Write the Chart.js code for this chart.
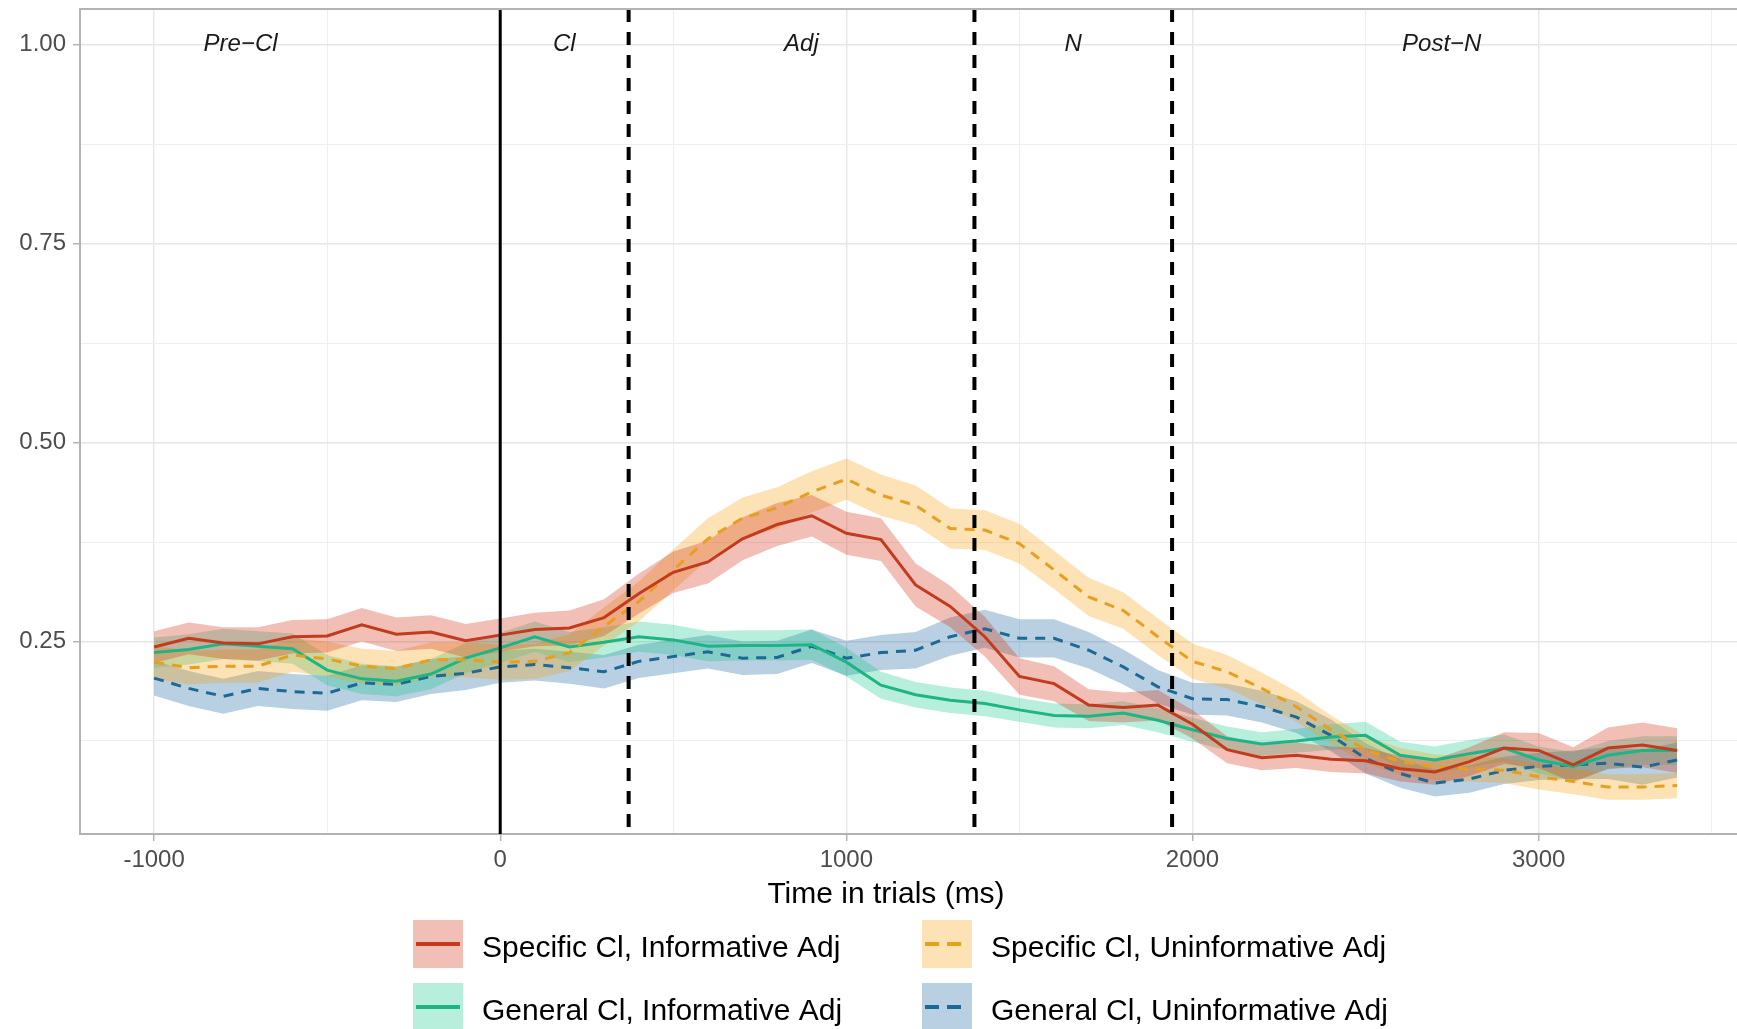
<!DOCTYPE html>
<html>
<head>
<meta charset="utf-8">
<script src="https://cdn.jsdelivr.net/npm/chart.js@4.4.1/dist/chart.umd.min.js"></script>
<style>
  html, body { margin: 0; padding: 0; background: #ffffff; }
  #wrap { position: relative; width: 1737px; height: 1029px; }
  canvas { display: block; }
</style>
</head>
<body>
<div id="wrap"><canvas id="c" width="1737" height="1029"></canvas></div>
<script>
// ---------- data ----------
const timeMs = [-1000,-900,-800,-700,-600,-500,-400,-300,-200,-100,
  0,100,200,300,400,500,600,700,800,900,
  1000,1100,1200,1300,1400,1500,1600,1700,1800,1900,
  2000,2100,2200,2300,2400,2500,2600,2700,2800,2900,
  3000,3100,3200,3300,3400];

const specInf = [0.243,0.254,0.248,0.247,0.256,0.257,0.271,0.259,0.262,0.251,
  0.258,0.265,0.267,0.280,0.310,0.337,0.350,0.379,0.397,0.408,
  0.386,0.378,0.321,0.294,0.256,0.206,0.197,0.170,0.167,0.170,
  0.146,0.114,0.104,0.107,0.102,0.100,0.090,0.086,0.099,0.116,
  0.113,0.095,0.116,0.120,0.113];
const specInfSE = [0.020,0.020,0.020,0.021,0.021,0.021,0.021,0.021,0.021,0.021,
  0.021,0.021,0.022,0.023,0.025,0.026,0.027,0.027,0.027,0.026,
  0.027,0.027,0.027,0.026,0.025,0.023,0.022,0.020,0.019,0.019,
  0.018,0.017,0.016,0.016,0.016,0.016,0.016,0.016,0.018,0.020,
  0.022,0.022,0.026,0.028,0.028];

const specUninf = [0.224,0.217,0.219,0.219,0.233,0.228,0.219,0.216,0.227,0.227,
  0.224,0.225,0.236,0.269,0.300,0.340,0.379,0.405,0.418,0.438,
  0.454,0.434,0.421,0.392,0.390,0.373,0.340,0.306,0.289,0.256,
  0.225,0.212,0.191,0.168,0.139,0.114,0.099,0.092,0.090,0.088,
  0.080,0.074,0.067,0.067,0.069];
const specUninfSE = [0.021,0.021,0.021,0.021,0.021,0.022,0.022,0.022,0.022,0.022,
  0.022,0.022,0.023,0.024,0.025,0.026,0.026,0.026,0.026,0.026,
  0.026,0.026,0.025,0.025,0.025,0.025,0.024,0.024,0.023,0.023,
  0.022,0.021,0.020,0.019,0.018,0.017,0.017,0.016,0.016,0.016,
  0.016,0.016,0.016,0.016,0.016];

const genInf = [0.236,0.240,0.247,0.244,0.241,0.214,0.203,0.200,0.209,0.229,
  0.242,0.256,0.243,0.249,0.256,0.252,0.244,0.245,0.245,0.246,
  0.224,0.195,0.183,0.176,0.172,0.164,0.157,0.156,0.160,0.151,
  0.139,0.128,0.121,0.125,0.130,0.132,0.107,0.101,0.109,0.116,
  0.101,0.093,0.107,0.113,0.113];
const genInfSE = [0.019,0.019,0.019,0.019,0.019,0.019,0.019,0.019,0.019,0.019,
  0.019,0.019,0.019,0.019,0.019,0.019,0.019,0.019,0.019,0.019,
  0.018,0.017,0.016,0.016,0.016,0.015,0.015,0.015,0.015,0.015,
  0.015,0.015,0.015,0.015,0.016,0.017,0.017,0.017,0.017,0.017,
  0.017,0.018,0.018,0.018,0.018];

const genUninf = [0.204,0.191,0.181,0.191,0.187,0.185,0.198,0.196,0.206,0.210,
  0.218,0.221,0.217,0.212,0.225,0.231,0.237,0.229,0.230,0.244,
  0.229,0.236,0.239,0.256,0.266,0.254,0.254,0.239,0.218,0.193,
  0.178,0.177,0.168,0.155,0.132,0.103,0.084,0.072,0.077,0.088,
  0.093,0.095,0.097,0.092,0.101];
const genUninfSE = [0.022,0.022,0.022,0.022,0.022,0.022,0.022,0.022,0.022,0.021,
  0.020,0.020,0.020,0.021,0.021,0.021,0.021,0.021,0.021,0.021,
  0.022,0.022,0.023,0.024,0.024,0.024,0.024,0.023,0.022,0.021,
  0.020,0.020,0.020,0.020,0.020,0.019,0.018,0.017,0.017,0.017,
  0.017,0.018,0.020,0.022,0.022];

const seriesNames = ['Specific Cl, Informative Adj', 'Specific Cl, Uninformative Adj',
                     'General Cl, Informative Adj', 'General Cl, Uninformative Adj'];

const xTickValues = [-1000,-500,0,500,1000,1500,2000,2500,3000,3500];
const xTickLabels = ['-1000','','0','','1000','','2000','','3000',''];
const yTickValues = [0.125,0.25,0.375,0.5,0.625,0.75,0.875,1.0];
const yTickLabels = ['','0.25','','0.50','','0.75','','1.00'];

const boundaryMs = [0, 371, 1370, 1941];
const boundaryDashed = [false, true, true, true];
const phaseNames = ['Pre\u2212Cl', 'Cl', 'Adj', 'N', 'Post\u2212N'];
const phaseLabelMs = [-750, 185, 870, 1655, 2720];
const phaseLabelY = 1.0;

// ---------- styles ----------
const lineColors = ['#C23B1E', '#E79F1F', '#1DB586', '#1D6996'];
const fillColors = ['rgba(212,55,25,0.32)', 'rgba(245,160,10,0.30)',
                    'rgba(20,200,140,0.30)', 'rgba(20,100,155,0.30)'];
const dashed = [false, true, false, true];
const FONT = '"Liberation Sans", Arial, Helvetica, sans-serif';

const means = [specInf, specUninf, genInf, genUninf];
const ses = [specInfSE, specUninfSE, genInfSE, genUninfSE];

function pts(arr) { return timeMs.map((t, i) => ({x: t, y: arr[i]})); }

const datasets = [];
means.forEach((m, k) => {
  datasets.push({
    label: seriesNames[k],
    data: pts(m),
    borderColor: lineColors[k],
    borderWidth: 3,
    borderDash: dashed[k] ? [10, 8] : [],
    pointRadius: 0,
    tension: 0,
    fill: false,
    order: 0
  });
});
means.forEach((m, k) => {
  const lower = m.map((v, i) => v - ses[k][i]);
  const upper = m.map((v, i) => v + ses[k][i]);
  datasets.push({
    label: seriesNames[k] + ' lower',
    data: pts(lower),
    borderWidth: 0, pointRadius: 0, tension: 0, fill: false, order: 1
  });
  datasets.push({
    label: seriesNames[k] + ' upper',
    data: pts(upper),
    borderWidth: 0, pointRadius: 0, tension: 0,
    fill: '-1', backgroundColor: fillColors[k], order: 1
  });
});

const overlayPlugin = {
  id: 'overlay',
  afterDatasetsDraw(chart) {
    const {ctx, chartArea, scales} = chart;
    const xs = scales.x, ys = scales.y;
    ctx.save();
    boundaryMs.forEach((t, i) => {
      const px = xs.getPixelForValue(t);
      ctx.beginPath();
      ctx.strokeStyle = '#000000';
      ctx.lineWidth = boundaryDashed[i] ? 4 : 3;
      ctx.setLineDash(boundaryDashed[i] ? [13, 10] : []);
      ctx.moveTo(px, chartArea.top);
      ctx.lineTo(px, chartArea.bottom);
      ctx.stroke();
    });
    ctx.setLineDash([]);
    ctx.fillStyle = '#1a1a1a';
    ctx.font = 'italic 24px ' + FONT;
    ctx.textAlign = 'center';
    ctx.textBaseline = 'middle';
    phaseNames.forEach((name, i) => {
      ctx.fillText(name, xs.getPixelForValue(phaseLabelMs[i]), ys.getPixelForValue(phaseLabelY));
    });
    ctx.strokeStyle = '#b3b3b3';
    ctx.lineWidth = 2;
    ctx.beginPath();
    ctx.moveTo(chartArea.left, chartArea.top);
    ctx.lineTo(chartArea.right, chartArea.top);
    ctx.stroke();
    ctx.restore();
  },
  afterDraw(chart) {
    const ctx = chart.ctx;
    ctx.save();
    ctx.fillStyle = '#000000';
    ctx.font = '30px ' + FONT;
    ctx.textAlign = 'center';
    ctx.textBaseline = 'middle';
    ctx.fillText('Time in trials (ms)', 886, 895);
    const cols = [413, 922];
    const rows = [920, 983];
    const box = 50, boxH = 48;
    ctx.font = '30px ' + FONT;
    ctx.textAlign = 'left';
    seriesNames.forEach((name, k) => {
      const cx = cols[k % 2], cy = rows[Math.floor(k / 2)];
      ctx.fillStyle = fillColors[k];
      ctx.fillRect(cx, cy, box, boxH);
      ctx.strokeStyle = lineColors[k];
      ctx.lineWidth = 4;
      ctx.setLineDash(dashed[k] ? [14, 8] : []);
      ctx.beginPath();
      ctx.moveTo(cx + 3, cy + boxH / 2);
      ctx.lineTo(cx + box - 3, cy + boxH / 2);
      ctx.stroke();
      ctx.setLineDash([]);
      ctx.fillStyle = '#000000';
      ctx.fillText(name, cx + box + 19, cy + boxH / 2 + 5);
    });
    ctx.restore();
  }
};

const isMajorY = v => yTickLabels[yTickValues.findIndex(t => Math.abs(t - v) < 1e-9)] !== '';
const isMajorX = v => xTickLabels[xTickValues.indexOf(v)] !== '';

new Chart(document.getElementById('c'), {
  type: 'line',
  data: { datasets },
  plugins: [overlayPlugin],
  options: {
    responsive: false,
    animation: false,
    events: [],
    layout: { padding: { top: 9, right: 0, left: 0, bottom: 0 } },
    plugins: { legend: { display: false }, tooltip: { enabled: false } },
    scales: {
      x: {
        type: 'linear',
        min: -1214, max: 3573,
        afterBuildTicks: s => { s.ticks = xTickValues.map(v => ({value: v})); },
        afterFit: s => { s.height = 195; s.paddingLeft = 0; s.paddingRight = 0; },
        grid: {
          color: c => (c.tick && isMajorX(c.tick.value)) ? '#e6e6e6' : '#eeeeee',
          lineWidth: c => (c.tick && isMajorX(c.tick.value)) ? 1.4 : 1,
          tickColor: c => (c.tick && isMajorX(c.tick.value)) ? '#b3b3b3' : 'rgba(0,0,0,0)',
          tickLength: 7,
          tickWidth: 1.5
        },
        border: { display: true, color: '#b3b3b3', width: 2 },
        ticks: {
          autoSkip: false, maxRotation: 0, padding: 5,
          color: '#4d4d4d',
          font: { family: FONT, size: 24 },
          callback: v => { const i = xTickValues.indexOf(v); return i >= 0 ? xTickLabels[i] : ''; }
        }
      },
      y: {
        type: 'linear',
        min: 0.008, max: 1.045,
        afterBuildTicks: s => { s.ticks = yTickValues.map(v => ({value: v})); },
        afterFit: s => { s.width = 80; s.paddingTop = 0; s.paddingBottom = 0; },
        grid: {
          color: c => (c.tick && isMajorY(c.tick.value)) ? '#e6e6e6' : '#eeeeee',
          lineWidth: c => (c.tick && isMajorY(c.tick.value)) ? 1.4 : 1,
          tickColor: c => (c.tick && isMajorY(c.tick.value)) ? '#b3b3b3' : 'rgba(0,0,0,0)',
          tickLength: 7,
          tickWidth: 1.5
        },
        border: { display: true, color: '#b3b3b3', width: 2 },
        ticks: {
          autoSkip: false, padding: 7,
          color: '#4d4d4d',
          font: { family: FONT, size: 24 },
          callback: v => { const i = yTickValues.findIndex(t => Math.abs(t - v) < 1e-9); return i >= 0 ? yTickLabels[i] : ''; }
        }
      }
    }
  }
});
</script>
</body>
</html>
